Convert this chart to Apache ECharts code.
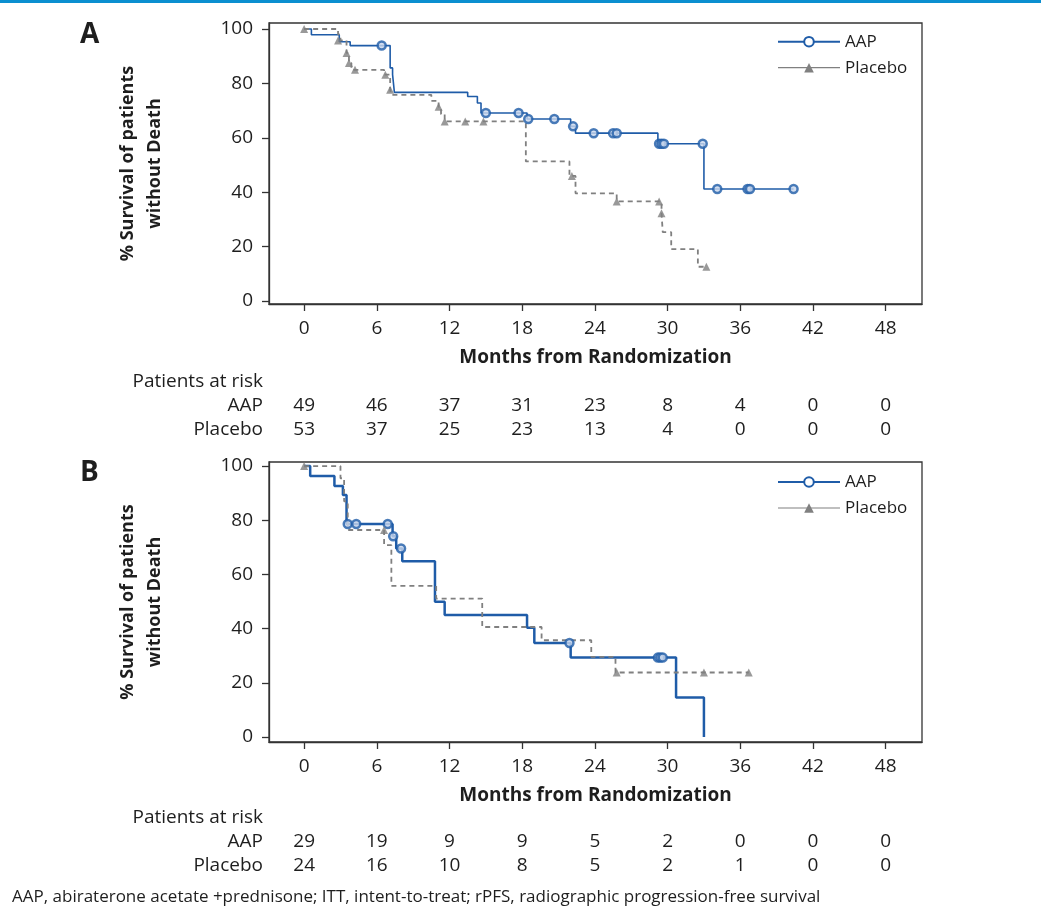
<!DOCTYPE html>
<html><head><meta charset="utf-8">
<script src="https://cdn.jsdelivr.net/npm/echarts@6/dist/echarts.min.js"></script>
<style>html,body{margin:0;padding:0;background:#fff}#c{width:1041px;height:918px}</style>
</head><body><div id="c"></div>
<script>
// ---------- data ----------
const monthTicks = [0, 6, 12, 18, 24, 30, 36, 42, 48];
const pctTicks = [0, 20, 40, 60, 80, 100];
const riskRows = ['Placebo', 'AAP', 'Patients at risk'];
const riskA_AAP = [49, 46, 37, 31, 23, 8, 4, 0, 0];
const riskA_Placebo = [53, 37, 25, 23, 13, 4, 0, 0, 0];
const riskB_AAP = [29, 19, 9, 9, 5, 2, 0, 0, 0];
const riskB_Placebo = [24, 16, 10, 8, 5, 2, 1, 0, 0];

// Panel A – step points [month, % surviving after the step]
const aapA_steps = [[0,100],[0.6,97.9],[2.9,95.3],[3.8,93.9],[7.1,85.7],[7.3,83.2],[7.45,76.7],[13.5,75.2],[14.3,72.8],[14.6,69.1],[18.4,66.9],[22.0,64.2],[22.4,61.7],[29.2,57.8],[33.0,41.2],[40.4,41.2]];
const aapA_censor = [[6.4,93.9],[15.0,69.1],[17.7,69.1],[18.5,66.9],[20.65,66.9],[22.2,64.2],[23.9,61.7],[25.5,61.7],[25.8,61.7],[29.3,57.8],[29.5,57.8],[29.7,57.8],[32.9,57.8],[34.1,41.2],[36.6,41.2],[36.8,41.2],[40.4,41.2]];
const plcA_steps = [[0,100],[2.8,98.0],[3.0,95.8],[3.5,91.2],[3.7,87.5],[3.9,85.0],[6.6,83.2],[7.1,77.7],[7.2,75.8],[10.5,73.6],[11.1,71.4],[11.3,68.7],[11.6,66.0],[18.3,51.3],[21.9,46.0],[22.4,39.6],[25.8,36.6],[29.5,32.3],[29.6,25.3],[30.3,19.1],[32.5,12.6],[33.2,12.6]];
const plcA_censor = [[0,100],[2.8,95.8],[3.5,91.2],[3.7,87.5],[4.2,85.0],[6.7,83.2],[7.1,77.7],[11.1,71.4],[11.6,66.0],[13.3,66.0],[14.8,66.0],[22.1,46.0],[25.8,36.6],[29.3,36.6],[29.5,32.3],[33.2,12.6]];

// Panel B
const aapB_steps = [[0,100],[0.5,96.3],[2.5,92.6],[3.2,89.3],[3.5,78.6],[7.3,74.1],[7.6,69.6],[8.1,64.9],[10.8,49.9],[11.6,45.0],[18.4,40.3],[19.0,34.7],[22.0,29.3],[30.7,14.6],[33.0,0]];
const aapB_censor = [[3.6,78.6],[4.3,78.6],[6.9,78.6],[7.35,74.1],[8.0,69.6],[21.9,34.7],[29.2,29.3],[29.4,29.3],[29.6,29.3]];
const plcB_steps = [[0,100],[3.0,95.5],[3.3,87.0],[3.6,76.4],[6.6,70.8],[7.2,55.8],[10.9,51.1],[14.7,40.6],[19.6,35.7],[23.7,29.6],[25.7,23.8],[36.7,23.8]];
const plcB_censor = [[0,100],[6.6,76.4],[25.8,23.8],[33.0,23.8],[36.7,23.8]];

// ---------- style ----------
const FONT = 'Open Sans';
const BLUE = '#1f5ca8';
const GREY = '#808080';
const TXT = '#1e1e1e';

const chart = echarts.init(document.getElementById('c'), null, {renderer: 'canvas'});

function riskData(months, vals, row) { return months.map((m, i) => [m, row, vals[i]]); }

const xBase = (gi, show) => ({
  type: 'value', gridIndex: gi, min: -2.9, max: 51,
  axisLine: {show: show, onZero: false, lineStyle: {color: '#333', width: 1.3}},
  axisTick: {show: show, length: 7, customValues: monthTicks, lineStyle: {color: '#333', width: 1.3}},
  axisLabel: {show: show, customValues: monthTicks, fontSize: 19, color: TXT, fontFamily: FONT, margin: 15},
  splitLine: {show: false}
});
const yBase = (gi, mn, mx) => ({
  type: 'value', gridIndex: gi, min: mn, max: mx,
  name: '% Survival of patients\nwithout Death', nameLocation: 'middle', nameGap: 101,
  nameTextStyle: {fontSize: 18, fontWeight: 'bold', color: TXT, fontFamily: FONT, lineHeight: 27},
  axisLine: {show: true, onZero: false, lineStyle: {color: '#333', width: 1.3}},
  axisTick: {show: true, length: 7, customValues: pctTicks, lineStyle: {color: '#333', width: 1.3}},
  axisLabel: {customValues: pctTicks, fontSize: 19, color: TXT, fontFamily: FONT, margin: 16},
  splitLine: {show: false}
});
const xAxisName = {name: 'Months from Randomization', nameLocation: 'middle', nameGap: 44,
  nameTextStyle: {fontSize: 19, fontWeight: 'bold', color: TXT, fontFamily: FONT}};

const yRisk = (gi) => ({
  type: 'category', gridIndex: gi, data: riskRows,
  axisLine: {show: false}, axisTick: {show: false},
  axisLabel: {interval: 0, hideOverlap: false, fontSize: 19, color: TXT, fontFamily: FONT, margin: 6, align: 'right'}
});

const riskLabel = {show: true, position: 'inside', formatter: p => String(p.value[2]),
  fontSize: 19, color: TXT, fontFamily: FONT, textBorderWidth: 0, opacity: 1};

function kmLine(name, steps, xi, color, width, dashed, symbol) {
  return {name, type: 'line', xAxisIndex: xi, yAxisIndex: xi, step: 'end', data: steps,
    symbol, symbolSize: 10, showSymbol: false, silent: true, animation: false,
    lineStyle: {color, width, type: dashed ? [5, 4] : 'solid'}, itemStyle: {color}};
}
function censor(name, pts, xi, isAAP) {
  return {name, type: 'scatter', xAxisIndex: xi, yAxisIndex: xi, data: pts, animation: false, silent: true,
    symbol: isAAP ? 'circle' : 'triangle', symbolSize: 8, z: 3,
    itemStyle: isAAP ? {color: '#c9d7ec', borderColor: BLUE, borderWidth: 2.5} : {color: GREY}};
}
function riskSeries(xi, aap, plc) {
  const common = {type: 'scatter', xAxisIndex: xi, yAxisIndex: xi, symbolSize: 1,
    itemStyle: {color: '#ffffff', opacity: 1}, animation: false, silent: true, label: riskLabel};
  return [
    Object.assign({data: riskData(monthTicks, aap, 'AAP')}, common),
    Object.assign({data: riskData(monthTicks, plc, 'Placebo')}, common)
  ];
}

const legendBase = (top) => ({
  orient: 'vertical', left: 777, top, padding: 0, itemWidth: 62, itemHeight: 12, itemGap: 6,
  textStyle: {fontSize: 17, color: TXT, fontFamily: FONT, lineHeight: 20},
  data: [
    {name: 'AAP', itemStyle: {color: BLUE}, lineStyle: {color: BLUE, width: 2, type: 'solid'}},
    {name: 'Placebo', itemStyle: {color: GREY}, lineStyle: {color: GREY, width: 1.2, type: 'solid'}}
  ],
  selectedMode: false
});

chart.setOption({
  backgroundColor: '#fff',
  animation: false,
  textStyle: {fontFamily: FONT},
  grid: [
    {left: 269, right: 119, top: 23, height: 281, show: true, borderColor: '#333', borderWidth: 1.3},
    {left: 269, right: 119, top: 462, height: 280, show: true, borderColor: '#333', borderWidth: 1.3},
    {left: 269, right: 119, top: 370, height: 71},
    {left: 269, right: 119, top: 806, height: 72}
  ],
  xAxis: [
    Object.assign(xBase(0, true), xAxisName),
    Object.assign(xBase(1, true), xAxisName),
    xBase(2, false),
    xBase(3, false)
  ],
  yAxis: [
    yBase(0, -1.1, 102.2),
    yBase(1, -1.85, 101.5),
    yRisk(2),
    yRisk(3)
  ],
  legend: [legendBase(31.7), legendBase(472)],
  series: [
    kmLine('AAP', aapA_steps, 0, BLUE, 1.6, false, 'emptyCircle'),
    kmLine('Placebo', plcA_steps, 0, GREY, 1.8, true, 'triangle'),
    censor('AAP censored A', aapA_censor, 0, true),
    censor('Placebo censored A', plcA_censor, 0, false),
    kmLine('AAP', aapB_steps, 1, BLUE, 2.5, false, 'emptyCircle'),
    kmLine('Placebo', plcB_steps, 1, GREY, 1.8, true, 'triangle'),
    censor('AAP censored B', aapB_censor, 1, true),
    censor('Placebo censored B', plcB_censor, 1, false),
    ...riskSeries(2, riskA_AAP, riskA_Placebo),
    ...riskSeries(3, riskB_AAP, riskB_Placebo)
  ],
  graphic: [
    {type: 'rect', left: 0, top: 0, shape: {width: 1041, height: 3}, style: {fill: '#0b8fd0'}, silent: true},
    {type: 'text', left: 80, top: 21, style: {text: 'A', fontSize: 28, fontWeight: 'bold', fill: TXT, fontFamily: FONT}},
    {type: 'text', left: 80, top: 459, style: {text: 'B', fontSize: 28, fontWeight: 'bold', fill: TXT, fontFamily: FONT}},
    {type: 'text', left: 12, top: 889, style: {text: 'AAP, abiraterone acetate +prednisone; ITT, intent-to-treat; rPFS, radiographic progression-free survival', fontSize: 17, fill: TXT, fontFamily: FONT}}
  ]
});
</script>
</body></html>
